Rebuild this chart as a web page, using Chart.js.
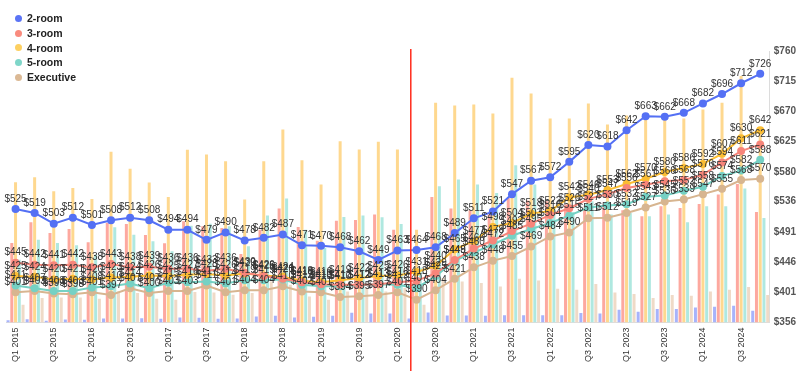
<!DOCTYPE html>
<html>
<head>
<meta charset="utf-8">
<script src="https://cdn.jsdelivr.net/npm/chart.js@4"></script>
<style>
  html, body { margin: 0; padding: 0; background: #fff; }
  #wrap { position: relative; width: 800px; height: 371px; }
  #legend { position: absolute; left: 15px; top: 11px; font: bold 10.5px "Liberation Sans", Arial, sans-serif; color: #222; }
  #legend div { height: 14.7px; display: flex; align-items: center; }
  #legend span { display: inline-block; width: 7px; height: 7px; border-radius: 50%; margin-right: 5px; }
</style>
</head>
<body>
<div id="wrap">
  <canvas id="chart" width="800" height="371"></canvas>
  <div id="legend"></div>
</div>
<script>
// quarters shown on the x axis
const quarters = [
  "Q1 2015", "Q2 2015", "Q3 2015", "Q4 2015", "Q1 2016", "Q2 2016", "Q3 2016", "Q4 2016",
  "Q1 2017", "Q2 2017", "Q3 2017", "Q4 2017", "Q1 2018", "Q2 2018", "Q3 2018", "Q4 2018",
  "Q1 2019", "Q2 2019", "Q3 2019", "Q4 2019", "Q1 2020", "Q2 2020", "Q3 2020", "Q4 2020",
  "Q1 2021", "Q2 2021", "Q3 2021", "Q4 2021", "Q1 2022", "Q2 2022", "Q3 2022", "Q4 2022",
  "Q1 2023", "Q2 2023", "Q3 2023", "Q4 2023", "Q1 2024", "Q2 2024", "Q3 2024", "Q4 2024"
];

const flatTypes = ["2-room", "3-room", "4-room", "5-room", "Executive"];

// price per sqft (lines)
const psf2room = [525,519,503,512,501,508,512,508,494,494,479,490,478,482,487,471,470,468,462,449,463,464,468,489,511,521,547,567,572,595,620,618,642,663,662,668,682,696,712,726];
const psf3room = [445,442,441,442,438,443,438,439,436,436,433,436,430,425,421,416,413,412,412,413,416,418,429,449,466,478,492,503,516,526,540,547,556,561,566,568,576,594,611,621];
const psf4room = [425,424,420,421,420,423,424,426,425,427,428,426,429,426,424,418,416,419,422,425,426,431,440,465,477,498,504,518,522,542,546,553,562,570,580,586,592,607,630,642];
const psf5room = [411,407,403,403,408,410,414,407,415,416,417,414,419,419,420,412,410,410,412,413,412,407,425,448,460,472,485,495,504,515,527,530,532,543,545,552,558,574,582,598];
const psfExec  = [401,403,399,398,401,397,407,400,403,403,411,401,404,404,410,402,401,394,395,397,401,390,404,421,438,448,455,469,484,490,511,512,519,527,536,539,547,555,568,570];

// resale volume (bars, hidden axis)
const vol2room = [35,50,26,45,41,60,60,65,56,75,71,56,60,90,101,75,86,101,146,135,135,60,150,105,105,101,110,110,110,110,140,135,191,161,200,200,225,236,251,176];
const vol3room = [1190,1500,1340,1400,1200,1490,1475,1310,1185,1515,1440,1415,1025,1390,1705,1430,1225,1525,1535,1615,1390,600,1880,1705,1680,1615,1865,1825,1815,1765,1715,1740,1680,1590,1740,1715,1775,1915,2075,1655];
const vol4room = [2100,2175,1965,2015,1850,2555,2300,2095,1880,2585,2515,2415,1840,2415,2890,2430,2065,2715,2590,2705,2590,1390,3290,3250,3265,3130,3665,3430,3055,3055,3280,2965,3100,3090,3090,3055,3190,3290,3690,2850];
const vol5room = [940,1240,1190,1155,1015,1425,1315,1215,1065,1450,1480,1440,1140,1600,1855,1390,1115,1580,1600,1575,1475,825,2040,2140,2065,1940,2355,2065,1715,1655,1815,1615,1640,1590,1615,1500,1740,1740,2005,1565];
const volExec  = [265,365,375,375,355,465,440,355,340,455,450,415,440,615,565,390,340,465,515,465,515,265,665,615,590,540,655,630,505,490,575,450,425,365,410,400,465,490,530,410];

// right axis tick labels
const priceTicks = [356,401,446,491,536,580,625,670,715,760];

// red marker between Q1 and Q2 2020 (in category units)
const eventAt = 20.7;

const lineColors = ["#5470f4", "#f7857a", "#fbbd33", "#75d1c4", "#d7b590"];
const dotColors  = ["#5b74f5", "#f98b7e", "#fdd061", "#7fd6c9", "#dbb995"];
const barColors  = ["#a7b3fb", "#fda89f", "#fed88f", "#afe8e0", "#efdac7"];

const psfSeries = [psf2room, psf3room, psf4room, psf5room, psfExec];
const volSeries = [vol2room, vol3room, vol4room, vol5room, volExec];

const FONT = '"Liberation Sans", Arial, sans-serif';

const lineSets = flatTypes.map((name, k) => ({
  type: "line",
  label: name,
  data: psfSeries[k],
  yAxisID: "y",
  borderColor: lineColors[k],
  backgroundColor: lineColors[k],
  pointBackgroundColor: lineColors[k],
  pointBorderWidth: 0,
  pointRadius: 4,
  borderWidth: 2,
  tension: 0,
  order: 0
}));

const barSets = flatTypes.map((name, k) => ({
  type: "bar",
  label: name + " volume",
  data: volSeries[k],
  yAxisID: "vol",
  backgroundColor: barColors[k],
  categoryPercentage: 0.98,
  barPercentage: 0.8,
  order: 1
}));

// legend as html
document.getElementById("legend").innerHTML = flatTypes
  .map((name, k) => '<div><span style="background:' + dotColors[k] + '"></span>' + name + '</div>')
  .join("");

// "$xxx" over every point
const pointLabels = {
  id: "pointLabels",
  afterDatasetsDraw(chart) {
    const ctx = chart.ctx;
    ctx.save();
    ctx.font = "10px " + FONT;
    ctx.fillStyle = "#333";
    ctx.textAlign = "center";
    ctx.textBaseline = "bottom";
    chart.data.datasets.forEach((ds, di) => {
      if (ds.type !== "line") return;
      chart.getDatasetMeta(di).data.forEach((pt, i) => {
        ctx.fillText("$" + ds.data[i], pt.x, pt.y - 5);
      });
    });
    ctx.restore();
  }
};

const eventLine = {
  id: "eventLine",
  afterDraw(chart) {
    const x = chart.scales.x;
    const step = x.getPixelForValue(1) - x.getPixelForValue(0);
    const px = x.getPixelForValue(Math.floor(eventAt)) + (eventAt - Math.floor(eventAt)) * step;
    const ctx = chart.ctx;
    ctx.save();
    ctx.strokeStyle = "#ff2b1c";
    ctx.lineWidth = 1.5;
    ctx.beginPath();
    ctx.moveTo(px, chart.chartArea.top - 2);
    ctx.lineTo(px, chart.height);
    ctx.stroke();
    ctx.restore();
  }
};

new Chart(document.getElementById("chart"), {
  type: "bar",
  data: { labels: quarters, datasets: [...lineSets, ...barSets] },
  options: {
    responsive: false,
    animation: false,
    layout: { padding: { top: 51, left: 6, right: 0, bottom: 4 } },
    plugins: { legend: { display: false }, tooltip: { enabled: false } },
    scales: {
      x: {
        offset: true,
        grid: { display: false, drawTicks: false },
        border: { color: "#dcdcdc" },
        ticks: {
          autoSkip: false,
          minRotation: 90,
          maxRotation: 90,
          padding: 5,
          color: "#333",
          font: { family: FONT, size: 9 },
          callback: (v, i) => (i % 2 === 0 ? quarters[i] : "")
        }
      },
      y: {
        position: "right",
        min: 356,
        max: 760,
        grid: { display: false, drawTicks: false },
        border: { color: "#dcdcdc" },
        afterBuildTicks: (axis) => { axis.ticks = priceTicks.map(v => ({ value: v })); },
        ticks: {
          padding: 4,
          color: "#555",
          font: { family: FONT, size: 10, weight: "bold" },
          callback: (v) => "$" + v
        }
      },
      vol: { display: false, min: 0, max: 4065 }
    }
  },
  plugins: [pointLabels, eventLine]
});
</script>
</body>
</html>
